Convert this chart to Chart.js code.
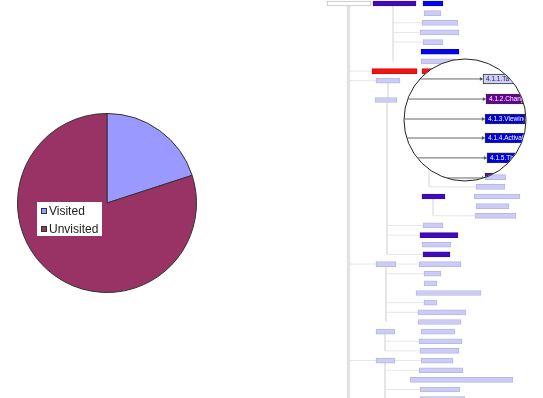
<!DOCTYPE html>
<html>
<head>
<meta charset="utf-8">
<script src="https://cdn.jsdelivr.net/npm/chart.js@4.4.0/dist/chart.umd.min.js"></script>
<style>
    html, body { margin: 0; padding: 0; background: #fff; }
    body { width: 543px; height: 398px; position: relative; overflow: hidden; }
    #treeBox { position: absolute; left: 0; top: 0; width: 543px; height: 398px; }
    #pieBox { position: absolute; left: 17px; top: 113px; width: 180px; height: 180px; }
</style>
</head>
<body>
<div id="treeBox"><canvas id="tree"></canvas></div>
<div id="pieBox"><canvas id="pie"></canvas></div>
<script>
// pie
const pieLabels = ['Visited', 'Unvisited'];
const pieValues = [20, 80];
const pieColors = ['#9999ff', '#993366'];

// tree boxes: [row, start, end]
const rootBoxes = [[0, 327, 371]];
const indigoBoxes = [[0, 373, 416], [20, 422, 445], [24, 420, 458], [26, 423, 450]];
const blueBoxes = [[0, 423, 443], [5, 421, 459]];
const redBoxes = [[7, 372, 417], [7, 422, 460]];
const lavenderBoxes = [
    [1, 424, 441], [2, 422, 458], [3, 420, 459], [4, 423, 443], [6, 421, 455],
    [8, 376, 400], [10, 375, 397], [18, 485, 506], [19, 476, 505], [20, 474, 520],
    [21, 476, 509], [22, 475, 516], [23, 423, 443], [25, 422, 451],
    [27, 376, 396], [27, 419, 461], [28, 424, 441], [29, 424, 437], [30, 416, 481],
    [31, 424, 437], [32, 418, 466], [33, 418, 461], [34, 376, 395], [34, 421, 455],
    [35, 419, 462], [36, 420, 459], [37, 376, 395], [37, 421, 453], [38, 419, 463],
    [39, 410, 513], [40, 420, 460], [41, 420, 465]
];

// connectors: [x0, row0, x1, row1]
const trunk = [[348.5, 0, 348.5, 41.5]];
const branches = [[388, 8, 388, 10], [387, 10, 387, 26], [386, 27, 386, 33], [385, 34, 385, 36], [385, 37, 385, 41.5]];
const links = [
    [393, 0, 393, 6], [393, 2, 422, 2], [393, 3, 420, 3], [393, 4, 423, 4],
    [349, 7, 372, 7], [349, 8, 376, 8],
    [387, 23, 423, 23], [387, 24, 420, 24], [387, 26, 423, 26],
    [429, 17, 429, 19], [429, 19, 476, 19],
    [433, 20, 433, 22], [433, 22, 475, 22],
    [349, 27, 376, 27], [396, 27, 419, 27],
    [386, 28, 424, 28], [386, 31, 424, 31], [386, 32, 418, 32],
    [385, 35, 419, 35], [385, 36, 420, 36],
    [349, 37, 376, 37], [395, 37, 421, 37], [385, 38, 419, 38], [385, 40, 420, 40]
];

// magnifier
const lensCenter = [465, 12.07];
const lensRows = [7.82, 9.9, 11.97, 13.94, 16.0, 18.08];
const lensStarts = [483, 486, 485, 485, 487, 485];
const lensEnds = [516, 523, 525, 530, 516, 530];
const lensLabels = ['4.1.1.Ta', '4.1.2.Chang', '4.1.3.Viewing', '4.1.4.Activati', '4.1.5.Thi', ''];
const lensColors = ['#cfcff4', '#660099', '#0000dd', '#0000dd', '#0000dd', '#551199'];
const lensTextColors = ['#202060', '#fff', '#fff', '#fff', '#fff', '#fff'];

const rowBars = (rows, bg, border) => ({
    type: 'bar',
    data: rows.map(r => ({ y: r[0], x: [r[1], r[2]] })),
    backgroundColor: bg, borderColor: border, borderWidth: 1,
    borderSkipped: false, barThickness: 5, grouped: false, order: 4
});

const segment = (s, color, width) => ({
    type: 'line',
    data: [{ x: s[0], y: s[1] }, { x: s[2], y: s[3] }],
    borderColor: color, borderWidth: width, pointRadius: 0, fill: false, order: 5
});

const datasets = [];
trunk.forEach(s => datasets.push(segment(s, '#e2e2e2', 3.5)));
branches.forEach(s => datasets.push(segment(s, '#e6e6e6', 2)));
links.forEach(s => datasets.push(segment(s, '#e6e6e6', 1)));
datasets.push(rowBars(rootBoxes, '#ffffff', '#c4c4c4'));
datasets.push(rowBars(lavenderBoxes, '#ccccf5', '#b8b8e8'));
datasets.push(rowBars(indigoBoxes, '#3e0db8', '#3a0aa8'));
datasets.push(rowBars(blueBoxes, '#0505ec', '#0000d8'));
datasets.push(rowBars(redBoxes, '#ee1515', '#dd0c0c'));

const lensIndex = datasets.length;
datasets.push({
    type: 'bubble',
    data: [{ x: lensCenter[0], y: lensCenter[1] }],
    radius: 61, hoverRadius: 0,
    backgroundColor: '#ffffff', borderColor: '#222', borderWidth: 1, order: 3
});

lensRows.forEach((row, i) => {
    datasets.push({
        type: 'line', lens: true,
        data: [{ x: 398, y: row }, { x: lensStarts[i] - 2, y: row }],
        borderColor: '#666', borderWidth: 1, fill: false,
        pointRadius: [0, 2.2], pointStyle: 'triangle', pointRotation: 90,
        pointBackgroundColor: '#555', pointBorderWidth: 0, order: 2
    });
});

datasets.push({
    type: 'bar', lens: true, labels: lensLabels,
    data: lensRows.map((row, i) => ({ y: row, x: [lensStarts[i], lensEnds[i]] })),
    backgroundColor: lensColors, borderColor: '#333', borderWidth: 1,
    borderSkipped: false, barThickness: 10, grouped: false, order: 1
});

// clip the zoomed part to the magnifier circle
const lensClip = {
    id: 'lensClip',
    beforeDatasetDraw(chart, args) {
        const ds = chart.data.datasets[args.index];
        if (!ds.lens) return;
        const c = chart.getDatasetMeta(lensIndex).data[0];
        const ctx = chart.ctx;
        ctx.save();
        ctx.beginPath();
        ctx.arc(c.x, c.y, c.options.radius - 0.6, 0, Math.PI * 2);
        ctx.clip();
    },
    afterDatasetDraw(chart, args) {
        const ds = chart.data.datasets[args.index];
        if (!ds.lens) return;
        const ctx = chart.ctx;
        if (ds.labels) {
            args.meta.data.forEach((el, i) => {
                const left = Math.min(el.base, el.x), right = Math.max(el.base, el.x);
                ctx.save();
                ctx.beginPath();
                ctx.rect(left + 1, el.y - el.height / 2, right - left - 2, el.height);
                ctx.clip();
                ctx.fillStyle = lensTextColors[i];
                ctx.font = '6.5px "Liberation Sans", Arial, sans-serif';
                ctx.textBaseline = 'middle';
                ctx.fillText(ds.labels[i], left + 3, el.y + 0.5);
                ctx.restore();
            });
        }
        ctx.restore();
    }
};

new Chart(document.getElementById('tree'), {
    type: 'bar',
    data: { datasets },
    options: {
        indexAxis: 'y',
        responsive: true, maintainAspectRatio: false, animation: false, events: [],
        layout: { padding: 0, autoPadding: false },
        plugins: { legend: { display: false }, tooltip: { enabled: false } },
        scales: {
            x: { type: 'linear', min: 0, max: 543, display: false, offset: false },
            y: { type: 'linear', min: -0.3627, max: 40.88, reverse: true, display: false, offset: false }
        }
    },
    plugins: [lensClip]
});

// legend drawn over the pie
const pieLegend = {
    id: 'pieLegend',
    afterDraw(chart) {
        const ctx = chart.ctx;
        const colors = chart.data.datasets[0].backgroundColor;
        ctx.save();
        ctx.fillStyle = '#fff';
        ctx.fillRect(20, 89, 65, 34);
        ctx.font = '12px "Liberation Sans", Arial, sans-serif';
        ctx.textBaseline = 'middle';
        chart.data.labels.forEach((lab, i) => {
            const y = 95 + i * 18;
            ctx.fillStyle = colors[i];
            ctx.fillRect(24, y, 6, 6);
            ctx.strokeStyle = '#333';
            ctx.lineWidth = 1;
            ctx.strokeRect(24.5, y + 0.5, 5, 5);
            ctx.fillStyle = '#222';
            ctx.fillText(lab, 32, y + 3.5);
        });
        ctx.restore();
    }
};

new Chart(document.getElementById('pie'), {
    type: 'pie',
    data: {
        labels: pieLabels,
        datasets: [{ data: pieValues, backgroundColor: pieColors, borderColor: '#333', borderWidth: 1 }]
    },
    options: {
        responsive: true, maintainAspectRatio: false, animation: false, events: [],
        layout: { padding: 0 },
        plugins: { legend: { display: false }, tooltip: { enabled: false } }
    },
    plugins: [pieLegend]
});
</script>
</body>
</html>
